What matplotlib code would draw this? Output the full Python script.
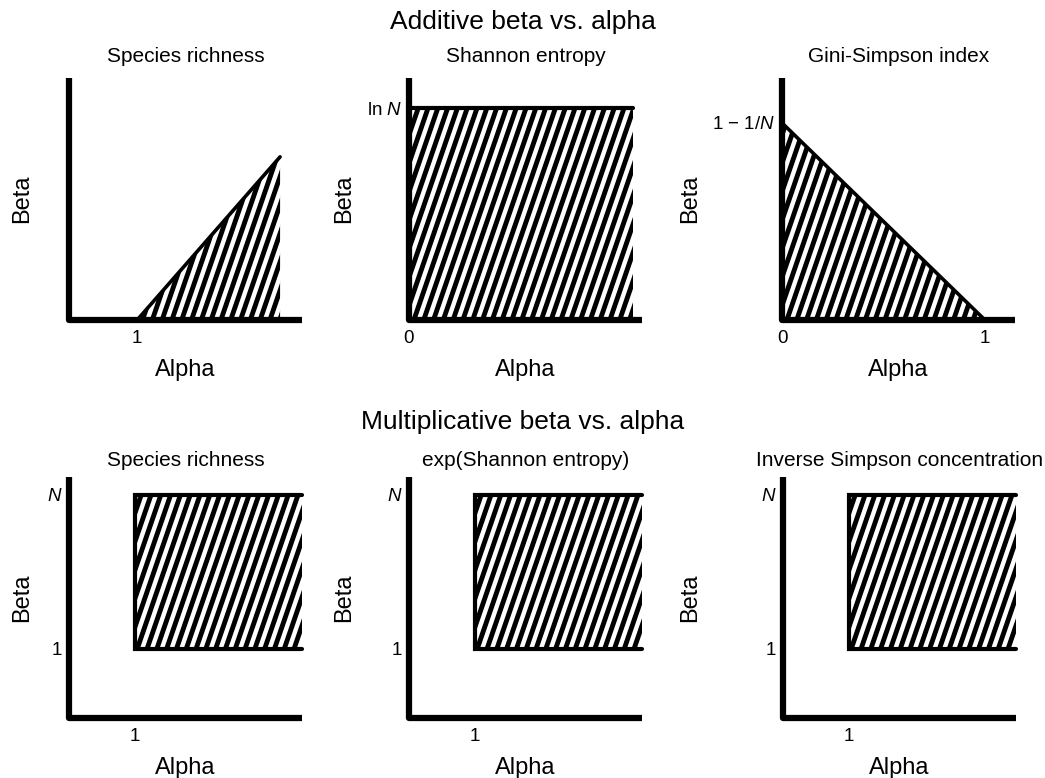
import numpy as np
import matplotlib
matplotlib.use('Agg')
import matplotlib.pyplot as plt
from matplotlib.patches import Polygon
from matplotlib.transforms import IdentityTransform

plt.rcParams['font.family'] = ['Liberation Sans', 'DejaVu Sans']
plt.rcParams['mathtext.fontset'] = 'custom'
plt.rcParams['mathtext.rm'] = 'Liberation Sans'
plt.rcParams['mathtext.it'] = 'Liberation Sans:italic'

# Region outlines in (alpha, beta), drawn with N = 4 species
N = 4
rich_add_alpha = [1, 4, 4]
rich_add_beta = [0, 3, 0]
shan_add_alpha = [0, 1.386, 1.386, 0]
shan_add_beta = [0, 0, 1.386, 1.386]
gini_add_alpha = [0, 1, 0]
gini_add_beta = [0, 0, 0.75]
mult_alpha = [1, 4, 4, 1]
mult_beta = [1, 1, 4, 4]

row_titles = ['Additive beta vs. alpha', 'Multiplicative beta vs. alpha']
panel_titles = ['Species richness', 'Shannon entropy', 'Gini-Simpson index',
                'Species richness', 'exp(Shannon entropy)',
                'Inverse Simpson concentration']

W, H = 1045, 778
fig = plt.figure(figsize=(W / 100, H / 100), dpi=100)


def make_axes(left, top, width=233, height=242):
    ax = fig.add_axes([left / W, (H - top - height) / H, width / W, height / H])
    for s in ax.spines.values():
        s.set_visible(False)
    # thick L-shaped axis with a rounded corner
    ax.plot([0, 0, 1], [1, 0, 0], transform=ax.transAxes, color='k', lw=4.5,
            solid_joinstyle='round', solid_capstyle='butt', clip_on=False,
            zorder=5)
    ax.tick_params(length=0, labelsize=13.5)
    ax.tick_params(axis='x', pad=7)
    ax.tick_params(axis='y', pad=5)
    return ax


def striped_region(ax, alpha, beta, period=9.8, angle=71):
    patch = Polygon(np.column_stack([alpha, beta]), closed=True,
                    facecolor='white', edgecolor='none', zorder=1)
    ax.add_patch(patch)
    x0, y0, x1, y1 = ax.bbox.extents
    dx = (y1 - y0) / np.tan(np.radians(angle))
    for s in np.arange(x0 - dx - period, x1 + period, period):
        ln, = ax.plot([s, s + dx], [y0, y1], transform=IdentityTransform(),
                      color='k', lw=3.5, solid_capstyle='butt', zorder=2)
        ln.set_clip_path(patch)


def labels(ax, title, ylab_x, title_gap):
    ax.text(0.5, 1 + title_gap, title, transform=ax.transAxes, ha='center',
            va='center', fontsize=15)
    ax.set_xlabel('Alpha', fontsize=17)
    ax.xaxis.set_label_coords(0.5, -0.207)
    ax.xaxis.label.set_va('center')
    ax.set_ylabel('Beta', fontsize=17)
    ax.yaxis.set_label_coords(ylab_x, 0.5)
    ax.yaxis.label.set_va('center')


# additive row
ax = make_axes(69, 78)
ax.set_xlim(-0.43, 4.46)
ax.set_ylim(0, 4.45)
ax.set_autoscale_on(False)
striped_region(ax, rich_add_alpha, rich_add_beta)
ax.plot(rich_add_alpha[:2], rich_add_beta[:2], color='k', lw=2.6,
        solid_capstyle='round', zorder=3)
ax.set_xticks([1], ['1'])
ax.set_yticks([])
labels(ax, panel_titles[0], -0.202, 0.087)

ax = make_axes(409, 78)
ax.set_xlim(0, 1.442)
ax.set_ylim(0, 1.583)
ax.set_autoscale_on(False)
striped_region(ax, shan_add_alpha, shan_add_beta)
ax.plot(shan_add_alpha[2:], shan_add_beta[2:], color='k', lw=3,
        solid_capstyle='round', zorder=3, clip_on=False)
ax.set_xticks([0], ['0'])
ax.set_yticks([shan_add_beta[2]], ['ln $N$'])
labels(ax, panel_titles[1], -0.279, 0.087)

ax = make_axes(782, 78)
ax.set_xlim(0, 1.148)
ax.set_ylim(0, 0.921)
ax.set_autoscale_on(False)
striped_region(ax, gini_add_alpha, gini_add_beta)
ax.plot([gini_add_alpha[2], gini_add_alpha[1]],
        [gini_add_beta[2], gini_add_beta[1]], color='k', lw=2.6,
        solid_capstyle='round', zorder=3)
ax.set_xticks([0, 1], ['0', '1'])
ax.set_yticks([gini_add_beta[2]], ['1 \u2212 1/$N$'])
labels(ax, panel_titles[2], -0.395, 0.087)

# multiplicative row: the same box in all three panels
for i, left in enumerate([69, 409, 783]):
    ax = make_axes(left, 477, height=241)
    ax.set_xlim(-0.186, N)
    ax.set_ylim(-0.35, 4.35)
    ax.set_autoscale_on(False)
    striped_region(ax, mult_alpha, mult_beta)
    ax.plot([mult_alpha[2], mult_alpha[3], mult_alpha[0], mult_alpha[1]],
            [mult_beta[2], mult_beta[3], mult_beta[0], mult_beta[1]],
            color='k', lw=3, solid_capstyle='round', solid_joinstyle='miter',
            zorder=3, clip_on=False)
    ax.set_xticks([1], ['1'])
    ax.set_yticks([1, N], ['1', '$N$'])
    labels(ax, panel_titles[3 + i], [-0.202, -0.279, -0.399][i], 0.07)

fig.text(0.5, 1 - 22 / H, row_titles[0], ha='center', va='center', fontsize=19)
fig.text(0.5, 1 - 422 / H, row_titles[1], ha='center', va='center', fontsize=19)

fig.savefig('out.png', dpi=100)
